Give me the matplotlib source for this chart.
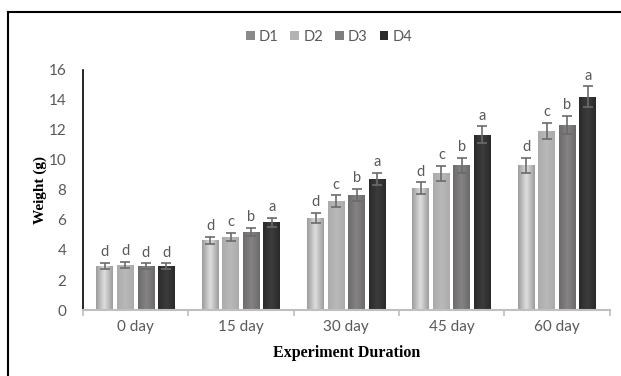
import numpy as np
import matplotlib.pyplot as plt
from matplotlib.patches import Patch
from matplotlib.colors import LinearSegmentedColormap
from matplotlib.lines import Line2D

categories = ['0 day', '15 day', '30 day', '45 day', '60 day']
series = ['D1', 'D2', 'D3', 'D4']
d1 = [2.93, 4.64, 6.13, 8.11, 9.64]
d2 = [3.00, 4.87, 7.24, 9.11, 11.93]
d3 = [2.93, 5.20, 7.67, 9.64, 12.33]
d4 = [2.93, 5.84, 8.73, 11.69, 14.20]
d1_err = [0.20, 0.25, 0.35, 0.40, 0.50]
d2_err = [0.20, 0.28, 0.40, 0.50, 0.55]
d3_err = [0.18, 0.28, 0.40, 0.50, 0.60]
d4_err = [0.18, 0.30, 0.42, 0.55, 0.70]
d1_letters = ['d', 'd', 'd', 'd', 'd']
d2_letters = ['d', 'c', 'c', 'c', 'c']
d3_letters = ['d', 'b', 'b', 'b', 'b']
d4_letters = ['d', 'a', 'a', 'a', 'a']

values = [d1, d2, d3, d4]
errors = [d1_err, d2_err, d3_err, d4_err]
letters = [d1_letters, d2_letters, d3_letters, d4_letters]
# edge colour, centre colour for the cylinder-ish shading
shades = [('#9c9c9c', '#dedede'), ('#ababab', '#b9b9b9'),
          ('#6c6a6a', '#858383'), ('#2a2a2a', '#3c3c3c')]
legend_cols = ['#8a8a8a', '#b3b3b3', '#7e7e7e', '#2b2b2b']
text_col = '#595959'

fig = plt.figure(figsize=(6.21, 3.76), dpi=100)
ax = fig.add_axes([0.1337, 0.1755, 0.848, 0.6385])

x = np.arange(len(categories))
width = 0.16
step = 0.195
for i, (vals, errs, labs) in enumerate(zip(values, errors, letters)):
    pos = x + (i - 1.5) * step
    bars = ax.bar(pos, vals, width, color=shades[i][1], zorder=2)
    cmap = LinearSegmentedColormap.from_list('s%d' % i, [shades[i][0], shades[i][1], shades[i][0]])
    grad = np.linspace(0, 1, 64).reshape(1, -1)
    for b in bars:
        im = ax.imshow(grad, cmap=cmap, aspect='auto', zorder=2.5,
                       extent=[b.get_x(), b.get_x() + b.get_width(), 0, b.get_height()])
        im.set_clip_path(b)
    ax.errorbar(pos, vals, yerr=errs, fmt='none', ecolor='#6b6b6b',
                elinewidth=1.2, capsize=3.5, capthick=1.2, zorder=3)
    for p, v, e, t in zip(pos, vals, errs, labs):
        ax.text(p, v + e + 0.25, t, ha='center', va='bottom',
                fontsize=10.5, color=text_col, family='Lato')

ax.set_xlim(-0.5, len(categories) - 0.5)
ax.set_ylim(0, 16)
ax.set_yticks(range(0, 17, 2))
ax.set_xticks(x)
ax.set_xticklabels(categories)
ax.set_xticks(np.arange(-0.5, len(categories), 1), minor=True)
ax.tick_params(axis='x', which='major', length=0, pad=7)
ax.tick_params(axis='x', which='minor', length=4, color='#bfbfbf', width=1.2)
ax.tick_params(axis='y', length=0, pad=12)
for lab in ax.get_xticklabels() + ax.get_yticklabels():
    lab.set_color(text_col)
    lab.set_fontsize(11)
    lab.set_family('Lato')

for s in ['top', 'right']:
    ax.spines[s].set_visible(False)
ax.spines['left'].set_color('black')
ax.spines['left'].set_linewidth(1.2)
ax.spines['bottom'].set_color('#bfbfbf')
ax.spines['bottom'].set_linewidth(1.5)

ax.set_ylabel('Weight (g)', family='Liberation Serif', fontweight='bold',
              fontsize=11, labelpad=1)
ax.set_xlabel('Experiment Duration', family='Liberation Serif', fontweight='bold',
              fontsize=11.5, labelpad=8)

handles = [Patch(facecolor=c, edgecolor='none') for c in legend_cols]
leg = fig.legend(handles, series, loc='center', bbox_to_anchor=(0.53, 0.902), ncol=4,
                 frameon=False, handlelength=0.6, handleheight=0.6, handletextpad=0.3,
                 columnspacing=0.8, prop={'family': 'Lato', 'size': 10.5})
for t in leg.get_texts():
    t.set_color(text_col)

# outer frame (only top and left edges show in the crop)
fig.add_artist(Line2D([8 / 621, 8 / 621], [0, 1 - 12 / 376], color='black', lw=1.5,
                      transform=fig.transFigure))
fig.add_artist(Line2D([8 / 621, 1], [1 - 12 / 376, 1 - 12 / 376], color='black', lw=1.5,
                      transform=fig.transFigure))

fig.savefig('out.png', dpi=100)
